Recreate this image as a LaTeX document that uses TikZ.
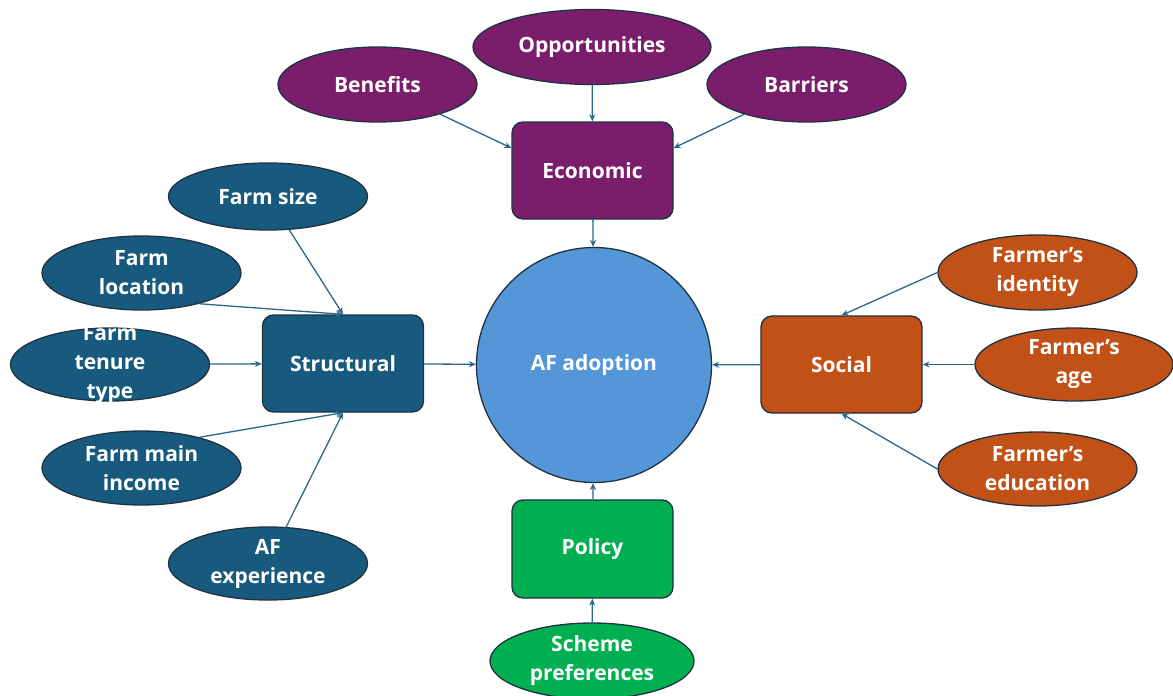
\documentclass[tikz,border=0pt]{standalone}
\usepackage{fontspec}
\setmainfont{Open Sans}
\usetikzlibrary{shapes.geometric,arrows.meta}
\definecolor{econ}{RGB}{122,30,108}
\definecolor{struct}{RGB}{24,90,126}
\definecolor{soc}{RGB}{193,81,22}
\definecolor{pol}{RGB}{0,176,80}
\definecolor{core}{RGB}{84,150,216}
\definecolor{rim}{RGB}{30,50,66}
\definecolor{link}{RGB}{40,105,138}
\tikzset{
  lbl/.style={text=white, font=\bfseries\fontsize{21}{29}\selectfont, align=center, inner sep=0pt},
  oval/.style={lbl, ellipse, draw=rim, line width=1.3pt, minimum width=199pt, minimum height=74pt},
  hub/.style={lbl, draw=rim, line width=1.3pt, rounded corners=11pt, minimum width=161pt, minimum height=97pt},
  feed/.style={draw=link, line width=1.3pt, -{Stealth[length=7pt,width=6pt]}}
}
\begin{document}
\begin{tikzpicture}[x=1pt,y=-1pt]
\useasboundingbox (0,0) rectangle (1173,696);
% centre
\node[lbl, circle, draw=rim, line width=1.3pt, fill=core, minimum size=235pt] (af) at (594,365) {AF adoption};
% economic group
\node[hub, fill=econ] (eco) at (592.5,170.5) {Economic};
\node[oval, fill=econ, minimum width=238pt, minimum height=75pt] (opp) at (592,47) {Opportunities};
\node[oval, fill=econ, minimum height=75pt] (ben) at (377.5,84.5) {Benefits};
\node[oval, fill=econ, minimum height=75pt] (bar) at (806.5,84.5) {Barriers};
% structural group
\node[hub, fill=struct] (str) at (343,363.5) {Structural};
\node[oval, fill=struct, minimum height=67pt] (size) at (268,196.5) {Farm size};
\node[oval, fill=struct] (loc) at (141.5,273) {Farm\\location};
% the tenure label runs past its oval, so the text sits on top of an empty shape
\node[oval, fill=struct, minimum height=73pt] (ten) at (110,364.5) {};
\node[lbl] (tentext) at (ten.center) {Farm\\tenure\\type};
\node[oval, fill=struct] (inc) at (141.5,468) {Farm main\\income};
\node[oval, fill=struct, minimum height=73pt] (exp) at (268,563.5) {AF\\experience};
% social group
\node[hub, fill=soc] (soc) at (841.5,364.5) {Social};
\node[oval, fill=soc, minimum height=75pt] (ide) at (1037.5,272.5) {Farmer’s\\identity};
\node[oval, fill=soc, minimum width=198pt, minimum height=73pt] (age) at (1074,364.5) {Farmer’s\\age};
\node[oval, fill=soc] (edu) at (1037.5,469) {Farmer’s\\education};
% policy group
\node[hub, fill=pol, minimum height=98pt] (pol) at (592.5,549) {Policy};
\node[oval, fill=pol, minimum width=204pt, minimum height=76pt] (sch) at (592,661) {Scheme\\preferences};
% connectors
\draw[feed] (opp) -- (eco);
\draw[feed] (ben) -- (eco.west |- 0,148);
\draw[feed] (bar) -- (eco.east |- 0,148);
\draw[feed] (eco) -- (af);
\draw[feed] (size) -- (str.north);
\draw[feed] (loc.-28) -- (str.north);
\draw[feed] (ten) -- (str);
\draw[feed] (inc.28) -- (str.south);
\draw[feed] (exp) -- (str.south);
\draw[feed] (str) -- (af);
\draw[feed] (ide.west) -- (soc.north);
\draw[feed] (age) -- (soc);
\draw[feed] (edu.west) -- (soc.south);
\draw[feed] (soc) -- (af);
\draw[feed] (pol) -- (af);
\draw[feed] (sch) -- (pol);
\end{tikzpicture}
\end{document}
